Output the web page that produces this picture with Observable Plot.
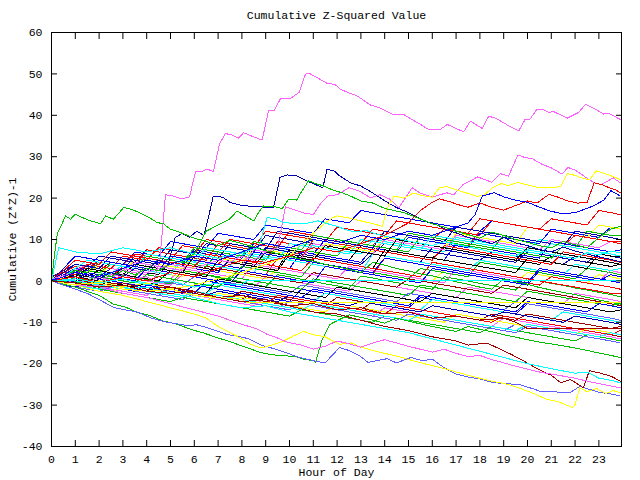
<!DOCTYPE html>
<html><head><meta charset="utf-8">
<script src="https://cdn.jsdelivr.net/npm/d3@7"></script>
<script src="https://cdn.jsdelivr.net/npm/@observablehq/plot@0.6"></script>
<style>
body{margin:0;background:#fff}
#chart svg g[aria-label="line"] path{shape-rendering:crispEdges}
</style>
</head><body><div id="chart"></div>
<script>
const titleText = "Cumulative Z-Squared Value";
const xLabel = "Hour of Day";
const yLabel = "Cumulative (Z*Z)-1";
const xTicks = [0,1,2,3,4,5,6,7,8,9,10,11,12,13,14,15,16,17,18,19,20,21,22,23];
const yTicks = [-40,-30,-20,-10,0,10,20,30,40,50,60];

const palette = {red:"#ff0000", green:"#00c000", blue:"#0000ff", pink:"#ff60ff", cyan:"#00ffff",
  darkred:"#a00000", yellow:"#ffff00", periwinkle:"#6060ff", black:"#000000", navy:"#0000b0"};

// half-hourly sampled series
const halfHours = [0,0.5,1,1.5,2,2.5,3,3.5, 4,4.5,5,5.5,6,6.5,7,7.5, 8,8.5,9,9.5,10,10.5,11,11.5,
  12,12.5,13,13.5,14,14.5,15,15.5, 16,16.5,17,17.5,18,18.5,19,19.5, 20,20.5,21,21.5,22,22.5,23,23.5, 23.9];
const bulkColors = ["red","green","blue","pink","cyan","darkred","yellow","periwinkle","black","navy",
  "red","green","blue","pink","cyan","darkred","yellow","periwinkle","black","navy",
  "red","green","blue","pink","cyan","darkred","yellow","periwinkle","black","navy",
  "red","green","blue","pink","cyan","red","blue","green",
  "blue","red","green","navy","cyan","black","red","blue"];
const bulkValues = [
 [0,-0.5,3,2.5,2,1.5,4,3.5, 3,2.5,6,5.5,5,4.5,4,6.5, 6,5.5,5,9.5,9,8.5,8,7.5, 10,9.5,9,8.5,12,11.5,11,10.5, 10,12.5,12,11.5,11,14.5,14,13.5, 13,12.5,15,14.5,14,13.5,17,16.5, 16],
 [0,0.5,-0.2,-0.8,-1.3,2,1.4,0.9, 0.3,-0.2,-0.8,2.5,2,1.4,0.8,0.3, -0.3,-0.8,-1.4,1.5,1,0.4,-0.1,-0.7, -1.2,-1.8,1.2,0.7,0.1,-0.4,-1,-1.5, -2,1,0.5,0,-0.6,-1.1,-1.7,-2.2, 0.5,0,-0.6,-1.1,-1.7,-2.2,-2.8,-3.3, -3.8],
 [0,1.5,1,4,3.5,3,2.5,6, 5.5,5,4.5,4,7.5,7,6.5,6, 5.5,9,8.5,8,7.5,7,6.5,10, 9.5,9,8.5,8,7.5,7,10.5,10, 9.5,9,8.5,8,11.5,11,10.5,10, 9.5,9,12.5,12,11.5,11,10.5,13, 12.5],
 [0,-0.5,-1,-1.5,-1,-2,-2.5,-3, -3.5,-2,-2.5,-3,-3.5,-4,-4.5,-5, -5.5,-6,-4,-4.5,-5,-5.5,-6,-6.5, -7,-7.5,-8,-8.5,-6.5,-7,-7.5,-8, -8.5,-9,-9.5,-10,-10.5,-11,-9,-9.5, -10,-10.5,-11,-11.5,-12,-12.5,-13,-13.5, -14],
 [0,1,3,2.5,2,1.5,4,3.5, 3,2.5,2,5.5,5,4.5,4,3.5, 7,6.5,6,5.5,5,9,8.5,8, 7.5,7,6.5,10,9.5,9,8.5,8, 7.5,7,10.5,10,9.5,9,8.5,8, 7.5,10,9.5,9,8.5,8,7.5,7, 7.5],
 [0,-0.5,0.5,0,-0.5,-1,-1.5,-2, -2.5,-1,-1.5,-2,-2.5,-3,-3.5,-4, -4.5,-2.5,-3,-3.5,-4,-4.5,-5,-5.5, -6,-6.5,-7,-5,-5.5,-6,-6.5,-7, -7.5,-8,-8.5,-9,-9.5,-8,-8.5,-9, -9.5,-10,-10.5,-11,-11.5,-12,-12.5,-13, -13.5],
 [1,0.5,2.5,2,1.5,4,3.5,3, 2.5,2,1.5,1,3.5,3,2.5,2, 1.5,1,0.5,3,2.5,2,1.5,1, 0.5,3.5,3,2.5,2,1.5,1,0.5, 0,2.5,2,1.5,1,0.5,0,-0.5, 2,1.5,1,0.5,0,-0.5,1.5,1, 0.5],
 [0,-1,-1.5,-2,-2.5,-1.5,-2,-2.5, -3,-3.5,-4,-4.5,-3,-3.5,-4,-4.5, -5,-5.5,-6,-6.5,-7,-5.5,-6,-6.5, -7,-7.5,-8,-8.5,-9,-9.5,-8,-8.5, -9,-9.5,-10,-10.5,-11,-11.5,-12,-10.5, -11,-11.5,-12,-12.5,-13,-13.5,-14,-14.5, -15],
 [0,0.5,0,2,1.5,1,3,2.5, 2,1.5,4.5,4,3.5,3,2.5,5, 4.5,4,3.5,3,7.5,7,6.5,6, 5.5,5,8.5,8,7.5,7,6.5,6, 5.5,8,7.5,7,6.5,6,5.5,5, 4.5,4,6,5.5,5,4.5,4,3.5, 4],
 [1,2.5,4,3.5,6,5.5,5,4.5, 7.5,7,6.5,6,5.5,9,8.5,8, 7.5,7,11,10.5,10,9.5,9,8.5, 8,7.5,7,6.5,9,8.5,8,7.5, 7,6.5,6,5.5,5,7,6.5,6, 5.5,5,4.5,4,6,5.5,5,4.5, 4],
 [0,1,2.5,2,1.5,1,3.5,3, 2.5,2,1.5,5,4.5,4,3.5,3, 2.5,2,1.5,5.5,5,4.5,4,3.5, 3,2.5,2,1.5,5.5,5,4.5,4, 3.5,3,2.5,2,1.5,1,0.5,0, -0.5,-1,1,0.5,0,-0.5,-1,-1.5, -2],
 [0,0.5,1,3,2.5,2,1.5,1, 4,3.5,3,2.5,2,1.5,1,0.5, 3.5,3,2.5,2,1.5,1,4.5,4, 3.5,3,2.5,2,1.5,1,0.5,3, 2.5,2,1.5,1,4.5,4,3.5,3, 2.5,2,1.5,1,0.5,3,2.5,2, 1.5],
 [0,-0.5,-1,-1.5,0.5,0,-0.5,-1, -1.5,-2,-2.5,-3,-1,-1.5,-2,-2.5, -3,-3.5,-4,-4.5,-5,-2,-2.5,-3, -3.5,-4,-4.5,-5,-5.5,-6,-6.5,-4, -4.5,-5,-5.5,-6,-6.5,-7,-7.5,-8, -5.5,-6,-6.5,-7,-7.5,-8,-8.5,-9, -9.5],
 [0,1,0.5,0,-0.5,1.5,1,0.5, 0,-0.5,-1,1.5,1,0.5,0,-0.5, -1,-1.5,1,0.5,0,-0.5,-1,-1.5, -2,-2.5,0,-0.5,-1,-1.5,-2,-2.5, -3,-3.5,-4,-1.5,-2,-2.5,-3,-3.5, -4,-4.5,-5,-5.5,-3,-3.5,-4,-4.5, -5],
 [0,-0.5,0.5,0,-0.5,-1,-1.5,0, -0.5,-1,-1.5,-2,-2.5,-3,-1,-1.5, -2,-2.5,-3,-3.5,-4,-4.5,-5,-3, -3.5,-4,-4.5,-5,-5.5,-6,-6.5,-7, -4.5,-5,-5.5,-6,-6.5,-7,-7.5,-8, -8.5,-9,-9.5,-7.5,-8,-8.5,-9,-9.5, -10],
 [1,2,3.5,3,2.5,4.5,4,3.5, 3,2.5,2,1.5,1,3.5,3,2.5, 2,1.5,1,0.5,0,-0.5,2,1.5, 1,0.5,0,-0.5,-1,-1.5,0.5,0, -0.5,-1,-1.5,-2,-2.5,-3,-1,-1.5, -2,-2.5,-3,-3.5,-4,-4.5,-5,-5.5, -6],
 [0,-0.5,-1,-1.5,-2,-2.5,-1.5,-2, -2.5,-3,-3.5,-4,-4.5,-5,-3,-3.5, -4,-4.5,-5,-5.5,-6,-6.5,-7,-7.5, -5.5,-6,-6.5,-7,-7.5,-8,-8.5,-9, -9.5,-10,-8,-8.5,-9,-9.5,-10,-10.5, -11,-11.5,-12,-12.5,-13,-11.5,-12,-12.5, -13],
 [0,0.5,1.5,1,0.5,2,1.5,1, 0.5,0,-0.5,-1,1,0.5,0,-0.5, -1,-1.5,-2,-2.5,-3,-1,-1.5,-2, -2.5,-3,-3.5,-4,-4.5,-5,-3,-3.5, -4,-4.5,-5,-5.5,-6,-6.5,-7,-5, -5.5,-6,-6.5,-7,-7.5,-8,-8.5,-9, -9.5],
 [0,-0.5,1,0.5,0,-0.5,-1,-1.5, -0.5,-1,-1.5,-2,-2.5,-3,0.5,0, -0.5,-1,-1.5,-2,-2.5,-3,-3.5,-4, -1.5,-2,-2.5,-3,-3.5,-4,-4.5,-5, -3,-3.5,-4,-4.5,-5,-5.5,-6,-6.5, -4,-4.5,-5,-5.5,-6,-6.5,-7,-7.5, -7],
 [0,1.5,2,4,3.5,3,6,5.5, 5,4.5,4,3.5,7,6.5,6,5.5, 5,4.5,8,7.5,7,6.5,6,5.5, 5,4.5,4,6.5,6,5.5,5,4.5, 8,7.5,7,6.5,6,5.5,5,4.5, 7,6.5,6,5.5,5,4.5,6.5,6, 5.5],
 [0,-0.5,-1,-1.5,-0.5,-1,-1.5,-2, -2.5,-3,-1.5,-2,-2.5,-3,-3.5,-4, -4.5,-5,-5.5,-3.5,-4,-4.5,-5,-5.5, -6,-6.5,-7,-7.5,-8,-6,-6.5,-7, -7.5,-8,-8.5,-9,-9.5,-10,-8.5,-9, -9.5,-10,-10.5,-11,-11.5,-12,-12.5,-13, -12],
 [0,0,-0.5,-1,-2,-2.5,-3,-3.5, -4,-4.5,-5,-4,-4.5,-5,-5.5,-6, -6.5,-7,-7.5,-8,-8.5,-7,-7.5,-8, -8.5,-9,-9.5,-10,-8.5,-9,-9.5,-10, -10.5,-11,-11.5,-12,-12.5,-11,-11.5,-12, -12.5,-13,-13.5,-14,-14.5,-13,-13.5,-14, -14.5],
 [0,1,2,1.5,1,3,2.5,2, 1.5,4.5,4,3.5,3,2.5,2,5.5, 5,4.5,4,3.5,3,7,6.5,6, 5.5,5,4.5,8,7.5,7,6.5,6, 5.5,5,9,8.5,8,7.5,7,6.5, 6,5.5,9.5,9,8.5,8,7.5,7, 7.5],
 [0,1,2,1.5,1,0.5,2.5,2, 1.5,1,0.5,3,2.5,2,1.5,1, 0.5,4,3.5,3,2.5,2,1.5,1, 0.5,3.5,3,2.5,2,1.5,1,0.5, 0,-0.5,3,2.5,2,1.5,1,0.5, 0,2.5,2,1.5,1,0.5,0,2.5, 2],
 [0,0.5,1,2.5,2,4,3.5,3, 2.5,2,1.5,5,4.5,4,3.5,3, 2.5,2,6,5.5,5,4.5,4,3.5, 3,2.5,2,6.5,6,5.5,5,4.5, 4,3.5,3,2.5,5,4.5,4,3.5, 3,2.5,2,1.5,4,3.5,3,2.5, 3],
 [0,-0.5,-1,0,-0.5,-1,-1.5,-2, -2.5,-1,-1.5,-2,-2.5,-3,-3.5,-4, -2.5,-3,-3.5,-4,-4.5,-5,-5.5,-6, -4,-4.5,-5,-5.5,-6,-6.5,-7,-7.5, -6,-6.5,-7,-7.5,-8,-8.5,-9,-9.5, -8,-8.5,-9,-9.5,-10,-10.5,-11,-11.5, -11],
 [0,1,2.5,2,3.5,3,2.5,5, 4.5,4,3.5,3,6.5,6,5.5,5, 4.5,8,7.5,7,6.5,6,5.5,9, 8.5,8,7.5,7,10.5,10,9.5,9, 8.5,8,11.5,11,10.5,10,9.5,9, 13,12.5,12,11.5,11,10.5,13.5,13, 12.5],
 [0,-0.5,-1,-0.5,-1,-1.5,-2,-2.5, -3,-3.5,-2,-2.5,-3,-3.5,-4,-4.5, -5,-5.5,-6,-6.5,-5,-5.5,-6,-6.5, -7,-7.5,-8,-8.5,-9,-9.5,-8,-8.5, -9,-9.5,-10,-10.5,-11,-11.5,-12,-12.5, -11,-11.5,-12,-12.5,-13,-13.5,-14,-14.5, -15],
 [0,0.5,1.5,1,2.5,2,1.5,1, 0.5,0,2.5,2,1.5,1,5,4.5, 4,3.5,3,2.5,6.5,6,5.5,5, 4.5,4,3.5,3,7.5,7,6.5,6, 5.5,5,4.5,4,3.5,3,2.5,2, 5.5,5,4.5,4,3.5,3,6.5,6, 6],
 [0,-0.5,-1,-1.5,-0.5,-1,-1.5,-2, -2.5,-1.5,-2,-2.5,-3,-3.5,-2.5,-3, -3.5,-4,-4.5,-5,-3.5,-4,-4.5,-5, -5.5,-6,-5,-5.5,-6,-6.5,-7,-7.5, -6,-6.5,-7,-7.5,-8,-8.5,-7.5,-8, -8.5,-9,-9.5,-10,-8.5,-9,-9.5,-10, -10.5],
 [0,2,3.5,3,5,4.5,4,3.5, 7.5,7,6.5,6,5.5,5,9,8.5, 8,7.5,7,6.5,6,5.5,10,9.5, 9,8.5,8,7.5,7,6.5,6,5.5, 5,8.5,8,7.5,7,6.5,6,5.5, 5,4.5,4,7,6.5,6,5.5,5, 4.5],
 [0,1,2,1.5,1,0.5,0,-0.5, 1.5,1,0.5,0,-0.5,-1,-1.5,1, 0.5,0,-0.5,-1,-1.5,-2,0.5,0, -0.5,-1,-1.5,-2,-2.5,-3,-3.5,-1, -1.5,-2,-2.5,-3,-3.5,-4,-4.5,-5, -2.5,-3,-3.5,-4,-4.5,-5,-5.5,-6, -5.5],
 [0,-0.5,0.5,2,1.5,1,0.5,0, 3,2.5,2,1.5,1,0.5,0,-0.5, 2.5,2,1.5,1,0.5,0,-0.5,3.5, 3,2.5,2,1.5,1,0.5,0,-0.5, 3,2.5,2,1.5,1,0.5,0,-0.5, -1,2.5,2,1.5,1,0.5,0,1.5, 1],
 [0,1,2.5,4,3.5,3,2.5,4.5, 4,3.5,3,2.5,6,5.5,5,4.5, 4,7.5,7,6.5,6,5.5,9,8.5, 8,7.5,7,6.5,10,9.5,9,8.5, 8,7.5,11,10.5,10,9.5,9,8.5, 8,7.5,10,9.5,9,8.5,8,9.5, 9],
 [0,-0.5,-1,-1.5,-2,-1,-1.5,-2, -2.5,-3,-3.5,-4,-2.5,-3,-3.5,-4, -4.5,-5,-5.5,-6,-6.5,-7,-5.5,-6, -6.5,-7,-7.5,-8,-8.5,-9,-9.5,-8, -8.5,-9,-9.5,-10,-10.5,-11,-11.5,-12, -10.5,-11,-11.5,-12,-12.5,-13,-13.5,-12.5, -13],
 [0,1.5,3,2.5,5,4.5,4,6.5, 6,5.5,5,8.5,8,7.5,7,10, 9.5,9,8.5,8,12,11.5,11,10.5, 10,9.5,9,12.5,12,11.5,11,10.5, 10,9.5,9,8.5,12,11.5,11,10.5, 10,9.5,9,8.5,11,10.5,10,9.5, 9.5],
 [0,-1,-1.5,-0.5,-1,-1.5,-2,-2.5, -1,-1.5,-2,-2.5,-3,0,-0.5,-1, -1.5,-2,-2.5,-3,-3.5,-4,-2,-2.5, -3,-3.5,-4,-4.5,-5,-5.5,-6,-3.5, -4,-4.5,-5,-5.5,-6,-6.5,-7,-7.5, -5,-5.5,-6,-6.5,-7,-7.5,-5.5,-6, -6.5],
 [0,0.5,1,2.5,2,4,3.5,3, 2.5,5.5,5,4.5,4,3.5,7,6.5, 6,5.5,5,8.5,8,7.5,7,6.5, 6,9.5,9,8.5,8,7.5,7,10.5, 10,9.5,9,8.5,8,7.5,11,10.5, 10,9.5,9,8.5,8,12,11.5,11, 11],
 [0,1.5,3,2.5,5,4.5,4,7, 6.5,6,9.5,9,8.5,8,11.5,11, 10.5,10,13.5,13,12.5,12,11.5,15, 14.5,14,17,16.5,16,15.5,15,14.5, 14,13.5,13,12.5,12,14.5,14,13.5, 13,12.5,12,11.5,11,10.5,10,9.5, 9],
 [0,2,1.5,4,3.5,3,6,5.5, 5,8,7.5,7,6.5,10,9.5,9, 8.5,8,12,11.5,11,10.5,10,9.5, 13,12.5,12,11.5,11,14.5,14,13.5, 13,12.5,12,11.5,15,14.5,14,13.5, 13,12.5,12,11.5,11,10.5,10,9.5, 9],
 [0,1,2.5,2,4.5,4,3.5,3, 6,5.5,5,4.5,8,7.5,7,6.5, 6,9.5,9,8.5,8,7.5,11,10.5, 10,9.5,9,8.5,8,7.5,11.5,11, 10.5,10,9.5,9,8.5,8,7.5,7, 6.5,6,5.5,8.5,8,7.5,7,6.5, 6],
 [0,2,4,3.5,3,6,5.5,5, 4.5,4,7.5,7,6.5,6,5.5,9, 8.5,8,7.5,12,11.5,11,10.5,10, 9.5,9,8.5,8,12,11.5,11,10.5, 10,9.5,13,12.5,12,11.5,11,10.5, 10,9.5,9,8.5,12,11.5,11,10.5, 10],
 [0,1,3,5,4.5,4,3.5,3, 6.5,6,5.5,5,4.5,8,7.5,7, 6.5,6,5.5,5,9,8.5,8,7.5, 7,6.5,10,9.5,9,8.5,8,7.5, 11,10.5,10,9.5,9,8.5,8,7.5, 7,6.5,9,8.5,8,7.5,7,6.5, 6],
 [0,0.5,1,3,2.5,2,1.5,4, 3.5,3,2.5,2,6,5.5,5,4.5, 4,3.5,7,6.5,6,5.5,5,8.5, 8,7.5,7,6.5,6,10,9.5,9, 8.5,8,7.5,7,6.5,6,5.5,5, 8,7.5,7,6.5,6,5.5,5,4.5, 4],
 [0,2.5,5,4.5,4,7,6.5,6, 5.5,5,4.5,4,3.5,6.5,6,5.5, 5,4.5,4,3.5,3,2.5,5.5,5, 4.5,4,3.5,3,2.5,2,1.5,1, 4.5,4,3.5,3,2.5,2,1.5,1, 0.5,0,-0.5,-1,-1.5,-2,-2.5,-3, -3],
 [0,3,6,5.5,5,4.5,4,3.5, 3,2.5,6,5.5,5,4.5,4,3.5, 3,7,6.5,6,5.5,5,4.5,4, 3.5,3,2.5,2,5.5,5,4.5,4, 3.5,3,2.5,2,1.5,1,0.5,0, -0.5,3,2.5,2,1.5,1,0.5,0, -0.5]
];

// series read in more detail: [hour, value] pairs
const detailedColors = ["pink","pink","navy","green","green","cyan","yellow","red","blue",
  "green","periwinkle","yellow","darkred","pink","cyan","cyan","yellow","darkred"];
const detailedSeries = [
 [[0,0],[0.5,-1],[1,0.5],[1.5,-0.5],[2,1],[2.5,0],[3,1.5],[3.5,0.5],[4,1],[4.3,0],[4.55,5],[4.79,20.8],[5.1,20.5],[5.49,19.8],[5.8,20.3],[6.05,26.4],[6.3,26.4],[6.55,27],[6.8,26.4],[7.06,33.1],[7.31,35.6],[7.6,35.2],[7.86,34.5],[8.07,35.8],[8.4,35],[8.85,34],[9.12,41.1],[9.35,41.1],[9.62,44],[10.04,44.1],[10.4,45.5],[10.67,49.9],[10.81,50.2],[11.1,49.3],[11.58,47.7],[11.9,47.5],[12.14,46.3],[12.5,45.4],[12.84,44.7],[13.4,42.5],[13.82,41.7],[14.3,40.3],[14.8,40.2],[15.2,38.8],[15.5,37.8],[15.84,36.6],[16.34,36.6],[16.63,37.8],[17,36.8],[17.32,36],[17.6,38.6],[18.1,36.8],[18.37,39.8],[18.7,39.2],[19.2,37.5],[19.63,36.2],[19.9,39],[20.1,39],[20.4,41.5],[20.6,41.5],[20.9,40.7],[21.1,40.9],[21.67,39.3],[22.15,40.7],[22.44,42.7],[22.75,41.8],[23.2,40.3],[23.4,40.5],[23.9,39]],
 [[0,0.5],[1,2],[2,1],[3,3],[4,2],[5,4],[6,3],[7,5],[7.5,4.5],[8,6],[8.5,5],[9,7],[9.5,8],[9.83,17.9],[10.2,17.2],[10.6,16.4],[11,16],[11.3,18.6],[11.6,20.5],[12,20.8],[12.5,22.5],[12.9,21.8],[13.4,20.1],[13.8,20.8],[14.2,19.8],[14.6,17.7],[15.15,22.5],[15.5,21.2],[16,20.2],[16.6,21.3],[16.9,20.8],[17.3,23.3],[17.9,25.1],[18.2,24.5],[18.5,23.8],[18.86,25.9],[19.2,25.3],[19.6,30.4],[19.9,29.8],[20.2,29.5],[20.6,28.2],[21,27.3],[21.45,25.8],[21.7,27.4],[22,26.8],[22.4,25.2],[22.8,23.7],[23.1,23.3],[23.4,24.2],[23.6,24.9],[23.9,23.7]],
 [[0,0],[0.5,1],[1,-0.5],[1.5,1.5],[2,0.5],[2.5,2],[3,1],[3.5,3],[4,2.5],[4.5,5],[4.9,4],[5.2,10.5],[5.5,11.5],[5.8,10.5],[6.1,12],[6.4,11],[6.6,15.5],[6.8,20.5],[7.2,20.2],[7.52,18.9],[8,18.2],[8.5,18],[9,17.8],[9.33,17.7],[9.6,25],[9.9,25.6],[10.3,25.4],[10.6,24.5],[11,23.5],[11.4,22.5],[11.58,27],[11.9,26.5],[12.1,25.4],[12.56,23.7],[13,22.9],[13.4,21.6],[13.8,20.1],[14.1,19],[14.5,17.7],[15,16.5],[15.4,15.3],[15.8,14.2],[16.2,13.5],[16.6,12.3],[17,11.6],[17.5,10.5],[18,9.8],[18.5,9],[19,10.5],[19.5,9.2],[20,8.5],[20.5,7.6],[21,7],[21.5,8.2],[22,7.2],[22.5,6.5],[23,5.8],[23.5,5.2],[23.9,4.6]],
 [[0,0],[0.5,-0.5],[1,1],[1.5,0],[2,1.5],[2.5,1],[3,2.5],[3.5,1.5],[4,3],[4.5,2.5],[5,4],[5.5,5],[6,6.5],[6.5,12],[7,13.5],[7.5,15],[7.8,16.9],[8.2,15.5],[8.5,14.5],[8.7,16.5],[8.9,18.1],[9.3,18],[9.7,17.5],[9.97,19.8],[10.3,19.5],[10.5,21.5],[10.8,24.2],[11.1,23.5],[11.4,23],[11.8,22],[12.2,21.3],[12.56,20.5],[13,19.3],[13.5,18.8],[14,17.5],[14.8,16.5],[15.4,15.2],[16,13.8],[16.5,13],[17,12],[17.5,11.2],[18,10.3],[18.5,11.8],[19,11],[19.5,10],[20,9.3],[20.5,8.5],[21,8],[21.5,9.5],[22,8.7],[22.5,8],[23,10.5],[23.5,12.5],[23.9,13.2]],
 [[0,0],[0.1,5],[0.24,11.3],[0.59,15.7],[0.8,14.9],[1,16.1],[1.3,15.3],[1.64,14.5],[1.85,14.2],[2.06,13.8],[2.27,15.7],[2.6,14.9],[3.03,17.7],[3.3,17.4],[3.7,16.5],[4.1,15.3],[4.44,14.1],[4.7,13.8],[5,12.5],[5.5,11.5],[6,10.3],[6.5,9.6],[7,8.5],[7.5,9.8],[8,9],[8.5,8.2],[9,7.3],[9.5,6.6],[10,6],[10.5,5.2],[11,4.8],[11.5,4],[12,3.4],[12.5,2.8],[13,2],[13.5,4.5],[14,3.8],[14.5,3],[15,2.4],[15.5,1.7],[16,1.2],[16.5,0.5],[17,-0.2],[17.5,-0.8],[18,-1.5],[18.5,-2],[19,0.5],[19.5,-0.2],[20,-0.8],[20.5,-1.6],[21,-2.2],[21.5,-2.8],[22,-3.3],[22.5,-4],[23,-4.6],[23.5,-5.2],[23.9,-5.6]],
 [[0,0],[0.3,8],[1,7],[2,6.5],[3,8],[4,7],[5,8],[6,6.5],[7,5.5],[8,7],[8.7,8],[9.06,15.3],[9.4,15],[9.75,14.1],[10.3,13.8],[10.7,13.9],[11.2,14.5],[11.6,13.8],[12,13.2],[12.4,12.3],[12.8,11.8],[13.2,12.2],[13.6,11.4],[14,10.8],[14.5,10.3],[15,9.6],[15.5,9.1],[16,8.5],[16.5,9.5],[17,8.8],[17.5,8.2],[18,7.6],[18.5,7],[19,6.5],[19.5,6],[20,7.5],[20.5,7],[21,6.4],[21.5,5.9],[22,5.4],[22.5,6.8],[23,6.3],[23.5,7.2],[23.9,6.8]],
 [[0,0],[1,-1],[2,0],[3,-1.5],[4,-0.5],[5,-2],[6,-1],[7,0.5],[8,2],[9,4],[10,6],[10.5,9],[11,11.5],[11.5,14],[11.8,15.2],[12,15.7],[12.5,15.2],[13,14.5],[13.5,13.8],[13.9,13.2],[14.1,17.5],[14.4,20.5],[14.8,20],[15.2,21.2],[15.6,20.6],[16,20.2],[16.3,22.5],[16.6,22.8],[17,22],[17.4,21.3],[17.9,20.4],[18.2,20.8],[18.5,22.4],[18.9,23.5],[19.2,23],[19.6,23.8],[20,23.2],[20.5,22.5],[21,22.5],[21.4,22.8],[21.67,25.9],[22,25.5],[22.3,24.8],[22.6,24.4],[22.9,26.6],[23.2,26],[23.5,25.4],[23.9,24.5]],
 [[0,0],[1,1],[2,-0.5],[3,1],[4,0],[5,2],[6,1],[7,3],[8,5],[9,4.5],[10,6],[11,8],[12,7],[13,9],[14,11],[14.5,12.5],[15,14],[15.5,17],[16,19],[16.3,19.8],[16.7,19.2],[17.1,18.4],[17.5,17.8],[18,18.8],[18.5,17.8],[19,17.1],[19.5,18.2],[20,19.3],[20.4,18.8],[20.9,20.9],[21.3,20.2],[21.7,19.3],[22.1,18.8],[22.5,18.9],[22.8,23.7],[23.1,23.3],[23.4,22.6],[23.7,22],[23.9,21.3]],
 [[0,0],[1,2],[2,1],[3,3],[4,5],[5,4],[6,6],[7,5],[8,7],[9,9],[10,8],[11,10],[12,9],[13,11],[14,10],[15,12],[16,11],[17,13],[17.5,14],[17.8,16],[18.1,20.5],[18.6,21.3],[19,20.3],[19.5,19.5],[20,19],[20.5,17.8],[21,16.8],[21.5,16.2],[22,16.5],[22.5,17.5],[22.8,18.2],[23.2,19.5],[23.5,21.8],[23.9,20.5]],
 [[0,0],[0.5,-0.8],[1,-1.5],[1.5,-2.5],[2,-3.5],[2.6,-5.6],[3.1,-6.3],[3.6,-7.6],[4.1,-8.3],[4.7,-9.7],[5.3,-10.5],[5.84,-11.7],[6.4,-12.6],[6.96,-13.7],[7.4,-14.5],[7.8,-15.3],[8.3,-16.3],[8.78,-17.3],[9.2,-17.8],[9.75,-18.1],[10.2,-18.2],[10.6,-18.9],[11,-19.3],[11.1,-19.6],[11.35,-14.5],[11.7,-10.5],[12,-9.6],[12.5,-8.2],[13,-8.8],[13.5,-9.5],[14,-10.2],[14.5,-9],[15,-9.7],[15.5,-10.4],[16,-11],[16.5,-11.6],[17,-12.2],[17.5,-11],[18,-11.7],[18.5,-12.3],[19,-13],[19.5,-13.6],[20,-14.2],[20.5,-14.8],[21,-15.2],[21.5,-15.7],[22,-16.2],[22.5,-16.8],[23,-17.4],[23.5,-18],[23.9,-18.5]],
 [[0,0],[0.5,-1],[1,-2],[1.5,-3],[2,-4.5],[2.6,-6.4],[3.1,-7],[3.6,-7.5],[4.16,-8.9],[4.7,-9.8],[5.2,-10.3],[5.7,-10.8],[6.1,-10.6],[6.54,-11.3],[7,-12.2],[7.4,-13],[7.8,-13.3],[8.3,-14],[8.8,-15.5],[9.3,-16.3],[9.8,-17.2],[10.3,-18.3],[10.8,-19],[11.2,-19.5],[11.5,-19.8],[12.1,-16.1],[12.5,-16.8],[13,-18.3],[13.3,-19.7],[13.7,-19.2],[14.1,-18.8],[14.5,-19.8],[15.1,-18.5],[15.6,-19.3],[16,-18.9],[16.5,-21],[17,-22.5],[17.5,-23.2],[18,-23.7],[18.6,-24.6],[19.1,-24.8],[19.7,-25.1],[20.2,-26],[20.6,-26.8],[21,-26.6],[21.4,-27],[21.8,-26.9],[22.2,-25.5],[22.6,-26.2],[23,-26.9],[23.5,-27.3],[23.9,-27.8]],
 [[0,0],[1,-1],[2,-2.5],[3,-3.5],[4,-5],[5,-6.5],[6,-8],[6.5,-9],[7,-11],[7.5,-12.5],[8,-14],[8.36,-15.3],[8.8,-16.2],[9.2,-15.6],[9.76,-14.5],[10.2,-13.2],[10.6,-12.2],[11,-13],[11.5,-13.5],[12.1,-15.3],[12.6,-15],[13,-16],[13.5,-16.8],[14,-17.5],[14.6,-18.3],[15.2,-19.3],[15.8,-20.2],[16.4,-21],[17,-22],[17.9,-23.4],[18.5,-24.2],[19.2,-25],[19.8,-26.2],[20.3,-27.3],[20.8,-28.6],[21.3,-29.2],[21.9,-30.6],[22,-29.8],[22.2,-25.8],[22.5,-26.8],[22.9,-26],[23.3,-27.2],[23.6,-26.5],[23.9,-27]],
 [[0,0],[1,0.5],[2,-1],[3,-0.5],[4,-2],[5,-1.5],[6,-3],[7,-4],[8,-3.5],[9,-5],[10,-6],[11,-7.5],[12,-8],[13,-9.5],[14,-11],[15,-12],[16,-13.5],[17,-14.5],[17.5,-15.5],[18.3,-15],[19.3,-17.7],[19.8,-19.2],[20.4,-21.2],[21,-22.8],[21.4,-24.6],[21.8,-23.8],[22.35,-25.8],[22.6,-21.7],[23,-22.2],[23.5,-23],[23.9,-24.2]],
 [[0,0],[1,-1],[2,-1.5],[3,-3],[4,-4],[5,-5.5],[6,-7],[7,-8.5],[8,-10.5],[8.6,-11.5],[9.06,-12.9],[9.5,-13.8],[9.9,-14.8],[10.5,-15.5],[11,-16.5],[11.5,-15.8],[12,-14.5],[12.5,-15.2],[13,-16],[13.5,-15],[14,-14.2],[14.5,-15],[15,-15.8],[15.5,-16.5],[16,-17.2],[16.5,-16.5],[17,-17.5],[17.5,-18.3],[18,-18],[18.5,-19],[19,-19.8],[19.5,-20.6],[20,-21.3],[20.5,-22],[21,-22.5],[21.5,-23],[22,-23.5],[22.5,-24.2],[23,-24.8],[23.5,-25.4],[23.9,-25.8]],
 [[0,0],[1,0],[2,-1],[3,-2],[4,-1.5],[5,-3],[6,-4],[7,-5.5],[8,-6.5],[9,-6],[10,-7.5],[11,-8.5],[12,-9.5],[13,-10.5],[14,-11.5],[15,-12.5],[16,-14],[17,-15.5],[18,-17],[19,-18.5],[20,-20],[21,-21.2],[22,-22.3],[22.5,-22],[23,-23.5],[23.5,-24],[23.9,-24.6]],
 [[0,0],[1,0.5],[2,-0.5],[3,0.5],[4,-1],[5,0],[6,-1.5],[7,-0.5],[8,-1],[8.2,0],[23.9,0]],
 [[0,0],[1,-1],[2,-0.5],[3,-2],[4,-2.5],[5,-2],[6,-3.5],[7,-4],[8,-4.5],[8.2,-5.2],[23.9,-5.2]],
 [[0,0],[1,-0.5],[2,-1.5],[3,-1],[4,-2.5],[5,-3],[6,-2.5],[7,-4],[8,-5],[9,-4.5],[10,-6],[11,-5.5],[12,-7],[13,-6.5],[14,-8],[15,-7.5],[16,-9],[17,-8.5],[18,-9.5],[19,-9],[19.5,-10],[20,-11.5],[23.9,-11.5]]
];

const rows = [];
bulkValues.forEach((vals, i) => {
  vals.forEach((v, j) => { if (j < halfHours.length) rows.push({id: "b" + i, h: halfHours[j], v, color: palette[bulkColors[i]]}); });
});
detailedSeries.forEach((pts, i) => {
  pts.forEach(([h, v]) => rows.push({id: "d" + i, h, v, color: palette[detailedColors[i]]}));
});

const chart = Plot.plot({
  width: 640, height: 480,
  marginLeft: 51, marginRight: 19, marginTop: 32, marginBottom: 34,
  style: {fontFamily: "'Liberation Mono', 'DejaVu Sans Mono', monospace", fontSize: "11.5px", background: "#fff", color: "#000"},
  x: {domain: [0, 23.95], label: null},
  y: {domain: [-40, 60], label: null},
  color: {type: "identity"},
  marks: [
    Plot.line(rows, {x: "h", y: "v", z: "id", stroke: "color", strokeWidth: 1, clip: true}),
    Plot.frame({stroke: "#000"}),
    Plot.axisX({anchor: "bottom", ticks: xTicks, tickSize: -6, tickPadding: 14, tickFormat: d => String(d), label: null}),
    Plot.axisX({anchor: "top", ticks: xTicks, tickSize: -6, tickFormat: () => "", label: null}),
    Plot.axisY({anchor: "left", ticks: yTicks, tickSize: -6, tickPadding: 15, tickFormat: d => String(d), label: null}),
    Plot.axisY({anchor: "right", ticks: yTicks, tickSize: -6, tickFormat: () => "", label: null}),
    Plot.text([titleText], {frameAnchor: "top", dy: -17, lineAnchor: "middle"}),
    Plot.text([xLabel], {frameAnchor: "bottom", dy: 26, lineAnchor: "middle"}),
    Plot.text([yLabel], {frameAnchor: "left", dx: -39, rotate: -90, textAnchor: "middle", lineAnchor: "middle"})
  ]
});
document.getElementById("chart").appendChild(chart);
</script>
</body></html>
